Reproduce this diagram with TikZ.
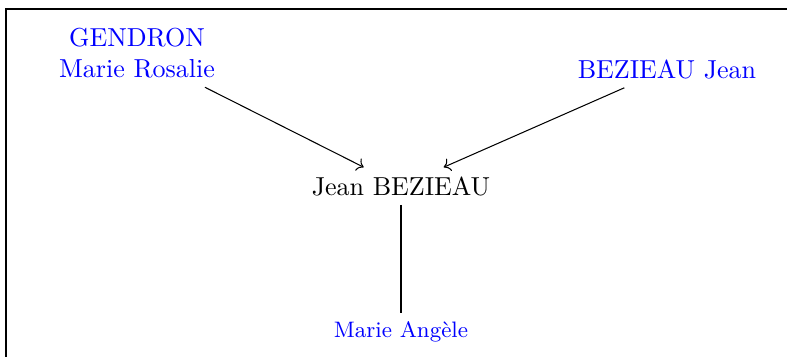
\documentclass[tikz,border=0pt]{standalone}
\usetikzlibrary{arrows.meta}
\begin{document}
\begin{tikzpicture}[x=0.3846pt,y=-0.3846pt,
  person/.style={text=blue,align=center},
  main/.style={text=black},
  link/.style={draw=black,->,line width=0.4pt}]
\useasboundingbox (0,0) rectangle (787,356);
\draw[line width=0.5pt] (6,370) -- (6,9) -- (800,9);
\node[person] (g) at (137,53) {GENDRON\\Marie Rosalie};
\node[person] (b) at (667,69) {BEZIEAU Jean};
\node[main] (j) at (401,186) {Jean BEZIEAU};
\node[person,font=\fontsize{8.6}{10}\selectfont] (m) at (401,332) {Marie Angèle};
\draw[link] (g) -- (j);
\draw[link] (b) -- (j);
\draw[line width=0.4pt] (j) -- (m);
\end{tikzpicture}
\end{document}
